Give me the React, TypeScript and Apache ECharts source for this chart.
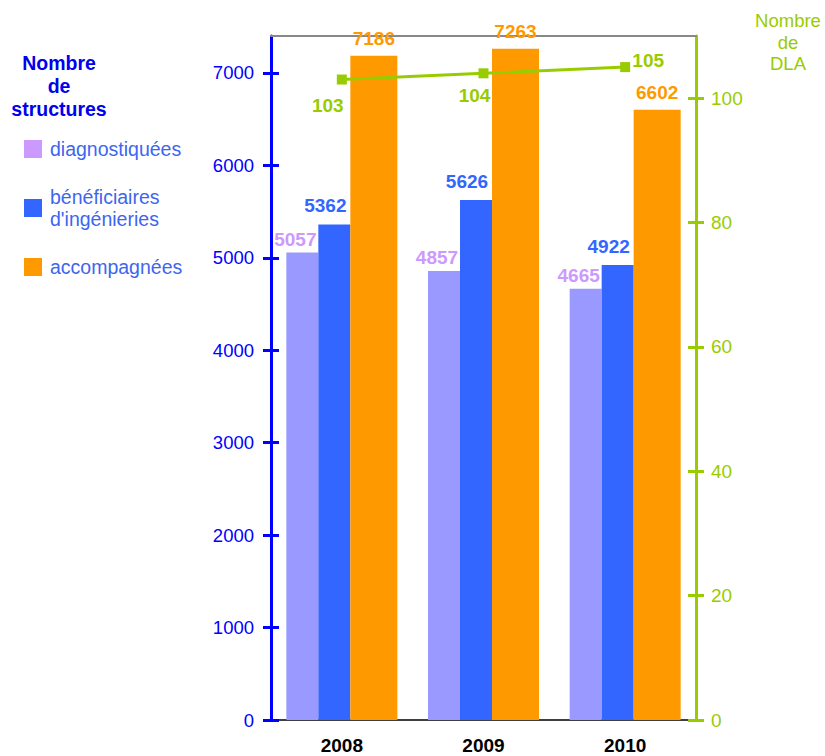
import React, { useEffect, useRef } from "react";
import * as echarts from "echarts";

const years = ["2008", "2009", "2010"];
const diagnostiquees = [5057, 4857, 4665];
const beneficiaires = [5362, 5626, 4922];
const accompagnees = [7186, 7263, 6602];
const dla = [103, 104, 105];
const leftTicks = [0, 1000, 2000, 3000, 4000, 5000, 6000, 7000];
const rightTicks = [0, 20, 40, 60, 80, 100];

const seriesNames = ["diagnostiquées", "bénéficiaires\nd'ingénieries", "accompagnées"];
const dlaLabelOffsets = [[-14, 26], [-9, 22], [23, -7]];

const FONT = "Liberation Sans, Arial, sans-serif";
const BLUE_AXIS = "#0000ff";
const GREEN = "#99cc00";

export default function App() {
  const ref = useRef<HTMLDivElement>(null);
  useEffect(() => {
    if (!ref.current) return;
    const chart = echarts.init(ref.current, undefined, { renderer: "svg" });
    const plain = (v: number) => String(v);
    const leftAxisBase = {
      type: "value",
      position: "left",
      min: 0,
      max: 7400,
      splitLine: { show: false },
    };
    const rightAxisBase = {
      type: "value",
      position: "right",
      min: 0,
      max: 110,
      splitLine: { show: false },
    };
    chart.setOption({
      animation: false,
      textStyle: { fontFamily: FONT },
      grid: { left: 271, right: 129, top: 36, bottom: 36 },
      legend: {
        orient: "vertical",
        left: 19,
        top: 133,
        itemWidth: 18,
        itemHeight: 18,
        itemGap: 26,
        icon: "rect",
        selectedMode: false,
        textStyle: { color: "#3d66f0", fontSize: 19.5, fontFamily: FONT, lineHeight: 22, padding: [0, 0, 0, 3] },
        data: [
          { name: seriesNames[0], itemStyle: { color: "#cc99ff" } },
          { name: seriesNames[1], itemStyle: { color: "#3366ff" } },
          { name: seriesNames[2], itemStyle: { color: "#ff9900" } },
        ],
      },
      graphic: [
        {
          type: "text",
          x: 59,
          y: 51,
          style: {
            text: "Nombre\nde\nstructures",
            fill: "#0000ee",
            font: `bold 19.5px ${FONT}`,
            lineHeight: 23,
            textAlign: "center",
            textVerticalAlign: "top",
          },
        },
        {
          type: "text",
          x: 788,
          y: 10,
          style: {
            text: "Nombre\nde\nDLA",
            fill: GREEN,
            font: `18.5px ${FONT}`,
            lineHeight: 21.5,
            textAlign: "center",
            textVerticalAlign: "top",
          },
        },
      ],
      xAxis: [
        {
          type: "category",
          data: years,
          position: "bottom",
          axisLine: { lineStyle: { color: "#000000", width: 1.5 } },
          axisTick: { show: false },
          axisLabel: { color: "#000", fontWeight: "bold", fontSize: 19, margin: 16, fontFamily: FONT },
        },
        {
          type: "category",
          data: years,
          position: "top",
          axisLine: { show: true, onZero: false, lineStyle: { color: "#888888", width: 2 } },
          axisTick: { show: false },
          axisLabel: { show: false },
        },
      ],
      yAxis: [
        {
          ...leftAxisBase,
          axisLine: { show: true, lineStyle: { color: BLUE_AXIS, width: 3 } },
          axisTick: { show: true, inside: false, length: 8, lineStyle: { color: BLUE_AXIS, width: 3 }, customValues: leftTicks },
          axisLabel: { color: BLUE_AXIS, fontSize: 18.5, margin: 17, fontFamily: FONT, customValues: leftTicks, formatter: plain },
        },
        {
          ...rightAxisBase,
          axisLine: { show: true, lineStyle: { color: GREEN, width: 3 } },
          axisTick: { show: true, inside: false, length: 8, lineStyle: { color: GREEN, width: 3 }, customValues: rightTicks },
          axisLabel: { color: GREEN, fontSize: 19, margin: 15, fontFamily: FONT, customValues: rightTicks, formatter: plain },
        },
        {
          ...leftAxisBase,
          axisLine: { show: false },
          axisTick: { show: true, inside: true, length: 8, lineStyle: { color: BLUE_AXIS, width: 3 }, customValues: leftTicks },
          axisLabel: { show: false },
        },
        {
          ...rightAxisBase,
          axisLine: { show: false },
          axisTick: { show: true, inside: true, length: 8, lineStyle: { color: GREEN, width: 3 }, customValues: rightTicks },
          axisLabel: { show: false },
        },
      ],
      series: [
        {
          name: seriesNames[0],
          type: "bar",
          data: diagnostiquees,
          barWidth: 32,
          barGap: "0%",
          itemStyle: { color: "#9999ff" },
          label: { show: true, position: "top", distance: 4, offset: [-7, 0], color: "#cc99ff", fontWeight: "bold", fontSize: 19, fontFamily: FONT },
        },
        {
          name: seriesNames[1],
          type: "bar",
          data: beneficiaires,
          barWidth: 32,
          barGap: "0%",
          itemStyle: { color: "#3366ff" },
          label: { show: true, position: "top", distance: 9, offset: [-9, 0], color: "#3366ff", fontWeight: "bold", fontSize: 19, fontFamily: FONT },
        },
        {
          name: seriesNames[2],
          type: "bar",
          data: accompagnees,
          barWidth: 47,
          barGap: "0%",
          itemStyle: { color: "#ff9900" },
          label: { show: true, position: "top", distance: 8, color: "#ff9900", fontWeight: "bold", fontSize: 19, fontFamily: FONT },
        },
        {
          name: "DLA",
          type: "line",
          yAxisIndex: 1,
          data: dla.map((v, i) => ({
            value: v,
            label: { offset: dlaLabelOffsets[i] },
          })),
          symbol: "rect",
          symbolSize: 10,
          itemStyle: { color: GREEN },
          lineStyle: { color: GREEN, width: 3 },
          label: { show: true, position: "inside", color: GREEN, fontWeight: "bold", fontSize: 19, fontFamily: FONT },
          z: 5,
        },
      ],
    });
    return () => chart.dispose();
  }, []);
  return <div ref={ref} style={{ position: "absolute", left: 0, top: 0, width: 825, height: 756 }} />;
}
